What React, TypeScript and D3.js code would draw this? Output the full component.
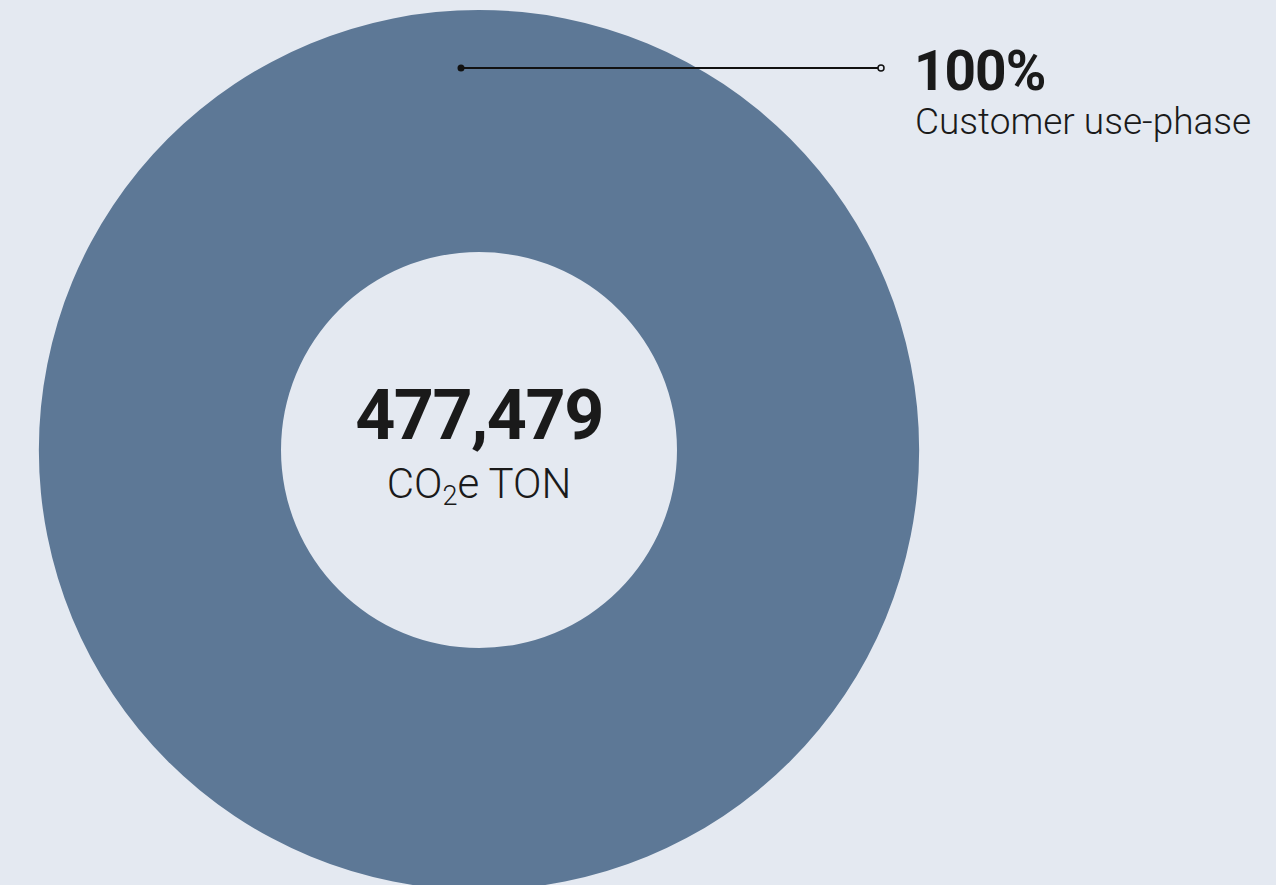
import React from "react";
import * as d3 from "d3";

const categories = ["Customer use-phase"];
const values = [477479];
const percentLabels = ["100%"];
const totalLabel = "477,479";
const unitLabel = "CO₂e TON";

const W = 1276;
const H = 885;
const cx = 479;
const cy = 450;
const outerR = 440;
const innerR = 198;

export default function App() {
  const pie = d3.pie<number>().sort(null).value((d) => d);
  const arcs = pie(values);
  const arcGen = d3.arc<d3.PieArcDatum<number>>().innerRadius(innerR).outerRadius(outerR);
  const color = d3.scaleOrdinal<string, string>().domain(categories).range(["#5d7896"]);

  return (
    <div style={{ position: "fixed", left: 0, top: 0, width: W, height: H, background: "#e4e9f1" }}>
      <svg width={W} height={H} style={{ display: "block", fontFamily: "Roboto, 'Liberation Sans', sans-serif" }}>
        <rect x={0} y={0} width={W} height={H} fill="#e4e9f1" />
        <g transform={`translate(${cx},${cy})`}>
          {arcs.map((a, i) => (
            <path key={i} d={arcGen(a) || ""} fill={color(categories[i])} />
          ))}
        </g>
        <line x1={461} y1={68} x2={878} y2={68} stroke="#111" strokeWidth={2} />
        <circle cx={461} cy={68} r={3.5} fill="#111" />
        <circle cx={881} cy={68} r={3} fill="#e4e9f1" stroke="#111" strokeWidth={1.5} />
        <text x={914} y={90} fontSize={55} fontWeight={700} fill="#1a1a1a" letterSpacing={-1}>{percentLabels[0]}</text>
        <text x={915} y={134} fontSize={37} fontWeight={300} fill="#1a1a1a">{categories[0]}</text>
        <text x={cx} y={439} textAnchor="middle" fontSize={70} fontWeight={700} fill="#1a1a1a" letterSpacing={-1.5}>{totalLabel}</text>
        <text x={cx} y={498} textAnchor="middle" fontSize={42} fontWeight={300} fill="#1a1a1a" aria-label={unitLabel}>
          CO<tspan fontSize={27} dy={7}>2</tspan><tspan dy={-7}>e TON</tspan>
        </text>
      </svg>
    </div>
  );
}
